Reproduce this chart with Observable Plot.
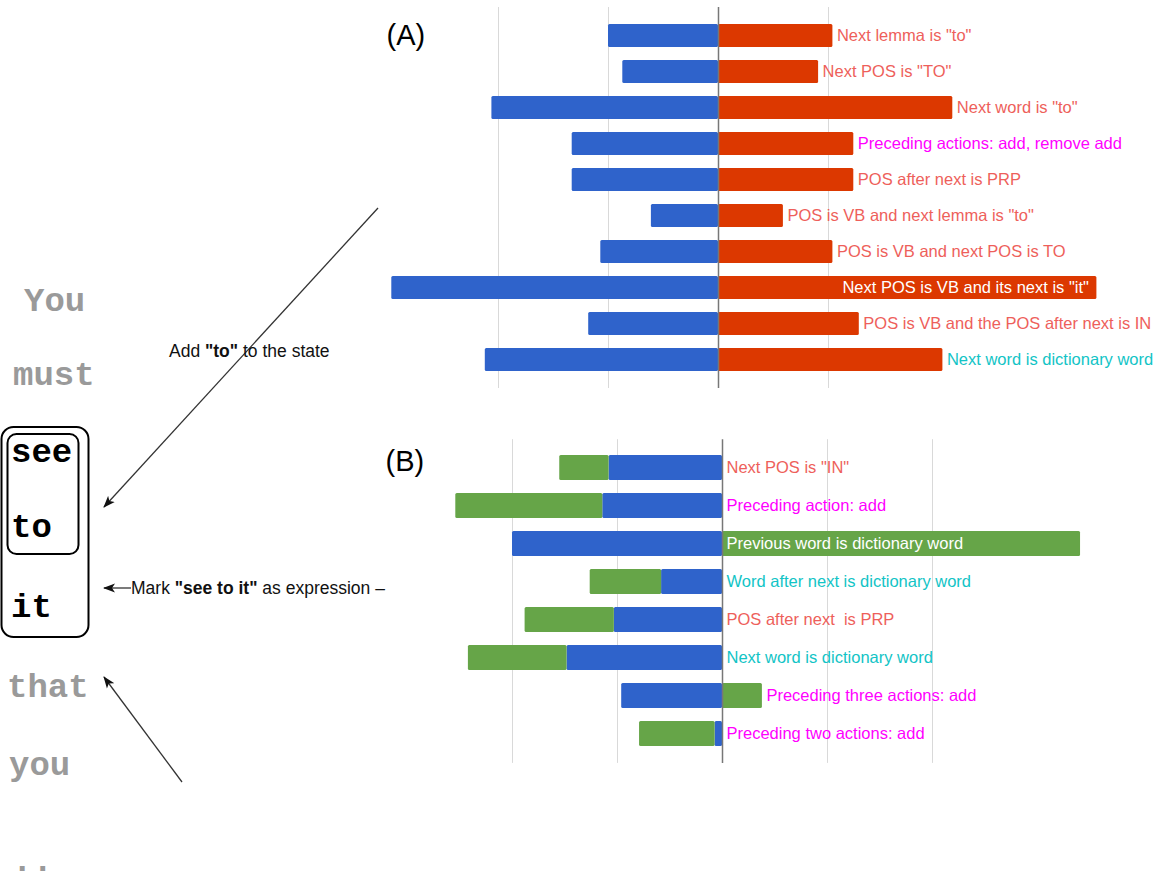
<!DOCTYPE html>
<html><head><meta charset="utf-8">
<script src="https://cdn.jsdelivr.net/npm/d3@7"></script>
<script src="https://cdn.jsdelivr.net/npm/@observablehq/plot@0.6"></script>
<style>
body{margin:0;background:#fff;}
#wrap{position:relative;width:1156px;height:882px;overflow:hidden;font-family:"Liberation Sans",Arial,sans-serif;}
.panel{position:absolute;width:786px;}
#overlay{position:absolute;left:0;top:0;pointer-events:none;}
</style>
</head><body><div id="wrap"></div>
<script>
// ---------- Panel (A) data ----------
const featuresA = ['Next lemma is "to"', 'Next POS is "TO"', 'Next word is "to"', 'Preceding actions: add, remove add',
  'POS after next is PRP', 'POS is VB and next lemma is "to"', 'POS is VB and next POS is TO',
  'Next POS is VB and its next is "it"', 'POS is VB and the POS after next is IN', 'Next word is dictionary word'];
const negA = [-1.00, -0.87, -2.06, -1.33, -1.33, -0.61, -1.07, -2.97, -1.18, -2.12];
const posA = [1.04, 0.91, 2.13, 1.23, 1.23, 0.59, 1.04, 3.44, 1.28, 2.04];
const kindA = ["lex","lex","lex","act","lex","lex","lex","hi","lex","dict"];
const gridA = [-2, -1, 1];

// ---------- Panel (B) data ----------
const featuresB = ['Next POS is "IN"', 'Preceding action: add', 'Previous word is dictionary word',
  'Word after next is dictionary word', 'POS after next  is PRP', 'Next word is dictionary word',
  'Preceding three actions: add', 'Preceding two actions: add'];
const seriesB1 = [-1.08, -1.14, -2.00, -0.58, -1.03, -1.48, -0.96, -0.07];
const seriesB2 = [-0.47, -1.40, 3.41, -0.68, -0.85, -0.94, 0.38, -0.72];
const kindB = ["lex","act","hi","dict","lex","dict","act","act"];
const gridB = [-2, -1, 1, 2];

// ---------- Left annotation data ----------
const words = ["You","must","see","to","it","that","you",".."];
const wordInExpr = [false,false,true,true,true,false,false,false];
const noteAdd = ['Add ', '"to"', ' to the state'];
const noteMark = ['Mark ', '"see to it"', ' as expression \u2013'];

const BLUE = "#2f63cb", RED = "#dc3800", GREEN = "#66a548";
const kindColor = {lex:"#ee5f5b", act:"#ff00ff", dict:"#12c4c6", hi:"#ffffff"};
const FONT = "Liberation Sans, Arial, Helvetica, sans-serif";

const wrap = document.getElementById("wrap");
function place(node, left, top) {
  const d = document.createElement("div");
  d.className = "panel"; d.style.left = left + "px"; d.style.top = top + "px";
  d.appendChild(node); wrap.appendChild(d);
}
function labelMarks(rows, xFn, hiInside) {
  return Object.entries(kindColor).map(([k, c]) =>
    Plot.text(rows.filter(r => r.kind === k), {
      x: xFn, y: "f", text: "f", textAnchor: k === "hi" && hiInside ? "end" : "start",
      dx: k === "hi" && hiInside ? -8 : 4, fill: c, fontSize: 16.5, lineAnchor: "middle"
    }));
}

// ---------- Chart A ----------
const rowsA = featuresA.map((f, i) => ({f, neg: negA[i], pos: posA[i], kind: kindA[i]}));
const barsA = featuresA.flatMap((f, i) => [{f, s: "neg", v: negA[i]}, {f, s: "pos", v: posA[i]}]);
const chartA = Plot.plot({
  width: 786, height: 395, marginLeft: 18, marginRight: 9, marginTop: 7, marginBottom: 7,
  style: {fontFamily: FONT, background: "transparent", overflow: "visible"},
  x: {domain: [-3, 3.9], axis: null},
  y: {domain: featuresA, axis: null, padding: 0.375},
  color: {type: "ordinal", domain: ["neg", "pos"], range: [BLUE, RED]},
  marks: [
    Plot.ruleX(gridA, {stroke: "#d9d9d9", strokeWidth: 1}),
    Plot.barX(barsA, {x1: 0, x2: "v", y: "f", fill: "s", rx: 1.5}),
    Plot.ruleX([0], {stroke: "#777", strokeWidth: 1.5}),
    ...labelMarks(rowsA, "pos", true),
    Plot.text(["(A)"], {frameAnchor: "top-left", dx: -2, dy: 28, lineAnchor: "middle", textAnchor: "start", fontSize: 29, fill: "#000"})
  ]
});
place(chartA, 370, 0);

// ---------- Chart B ----------
const rowsB = featuresB.map((f, i) => ({f, s1: seriesB1[i], s2: seriesB2[i], kind: kindB[i]}));
const barsB = featuresB.flatMap((f, i) => [{f, s: "s1", v: seriesB1[i]}, {f, s: "s2", v: seriesB2[i]}]);
const chartB = Plot.plot({
  width: 786, height: 345, marginLeft: 16, marginRight: 14, marginTop: 9.2, marginBottom: 12.1,
  style: {fontFamily: FONT, background: "transparent", overflow: "visible"},
  x: {domain: [-3.2, 4.0], axis: null},
  y: {domain: featuresB, axis: null, padding: 0.33},
  color: {type: "ordinal", domain: ["s1", "s2"], range: [BLUE, GREEN]},
  marks: [
    Plot.ruleX(gridB, {stroke: "#d9d9d9", strokeWidth: 1}),
    Plot.barX(barsB, Plot.stackX({x: "v", y: "f", fill: "s", rx: 1.5})),
    Plot.ruleX([0], {stroke: "#777", strokeWidth: 1.5}),
    ...labelMarks(rowsB, d => d.kind === "hi" ? 0 : Math.max(0, d.s2), false),
    Plot.text(["(B)"], {frameAnchor: "top-left", dx: -1, dy: 22, lineAnchor: "middle", textAnchor: "start", fontSize: 29, fill: "#000"})
  ]
});
place(chartB, 370, 430);

// ---------- Left overlay (sentence, boxes, arrows, notes) ----------
const wordX = [24, 13, 11, 11, 11, 7, 9, 12];
const wordY = [311, 385, 462, 537, 617, 697, 775, 871];
const ov = d3.select(wrap).append("svg").attr("id", "overlay").attr("width", 1156).attr("height", 882);
ov.append("defs").append("marker").attr("id", "ah").attr("viewBox", "0 0 12 10")
  .attr("refX", 11).attr("refY", 5).attr("markerWidth", 12).attr("markerHeight", 10)
  .attr("markerUnits", "userSpaceOnUse").attr("orient", "auto")
  .append("path").attr("d", "M0,0.5 L12,5 L0,9.5 L3,5 z").attr("fill", "#111");

ov.selectAll("text.word").data(words).join("text").attr("class", "word")
  .attr("x", (d, i) => wordX[i]).attr("y", (d, i) => wordY[i])
  .attr("font-family", "Liberation Mono, Courier New, monospace").attr("font-weight", "bold")
  .attr("font-size", 34).attr("fill", (d, i) => wordInExpr[i] ? "#000" : "#9a9a9a").text(d => d);

ov.append("rect").attr("x", 1.5).attr("y", 427).attr("width", 87).attr("height", 210).attr("rx", 12)
  .attr("fill", "none").attr("stroke", "#000").attr("stroke-width", 2);
ov.append("rect").attr("x", 7.5).attr("y", 434).attr("width", 71).attr("height", 120).attr("rx", 9)
  .attr("fill", "none").attr("stroke", "#000").attr("stroke-width", 2);

const arrows = [[378, 208, 104, 507], [131, 588, 104, 588], [182, 782, 104, 677]];
ov.selectAll("line.arr").data(arrows).join("line").attr("class", "arr")
  .attr("x1", d => d[0]).attr("y1", d => d[1]).attr("x2", d => d[2]).attr("y2", d => d[3])
  .attr("stroke", "#333").attr("stroke-width", 1.3).attr("marker-end", "url(#ah)");

function note(parts, x, y) {
  const t = ov.append("text").attr("x", x).attr("y", y).attr("font-family", FONT).attr("font-size", 17.5).attr("fill", "#111");
  parts.forEach((p, i) => t.append("tspan").attr("font-weight", i === 1 ? "bold" : "normal").text(p));
  t.style("white-space", "pre");
}
note(noteAdd, 169, 357);
note(noteMark, 131, 594);
</script>
</body></html>
